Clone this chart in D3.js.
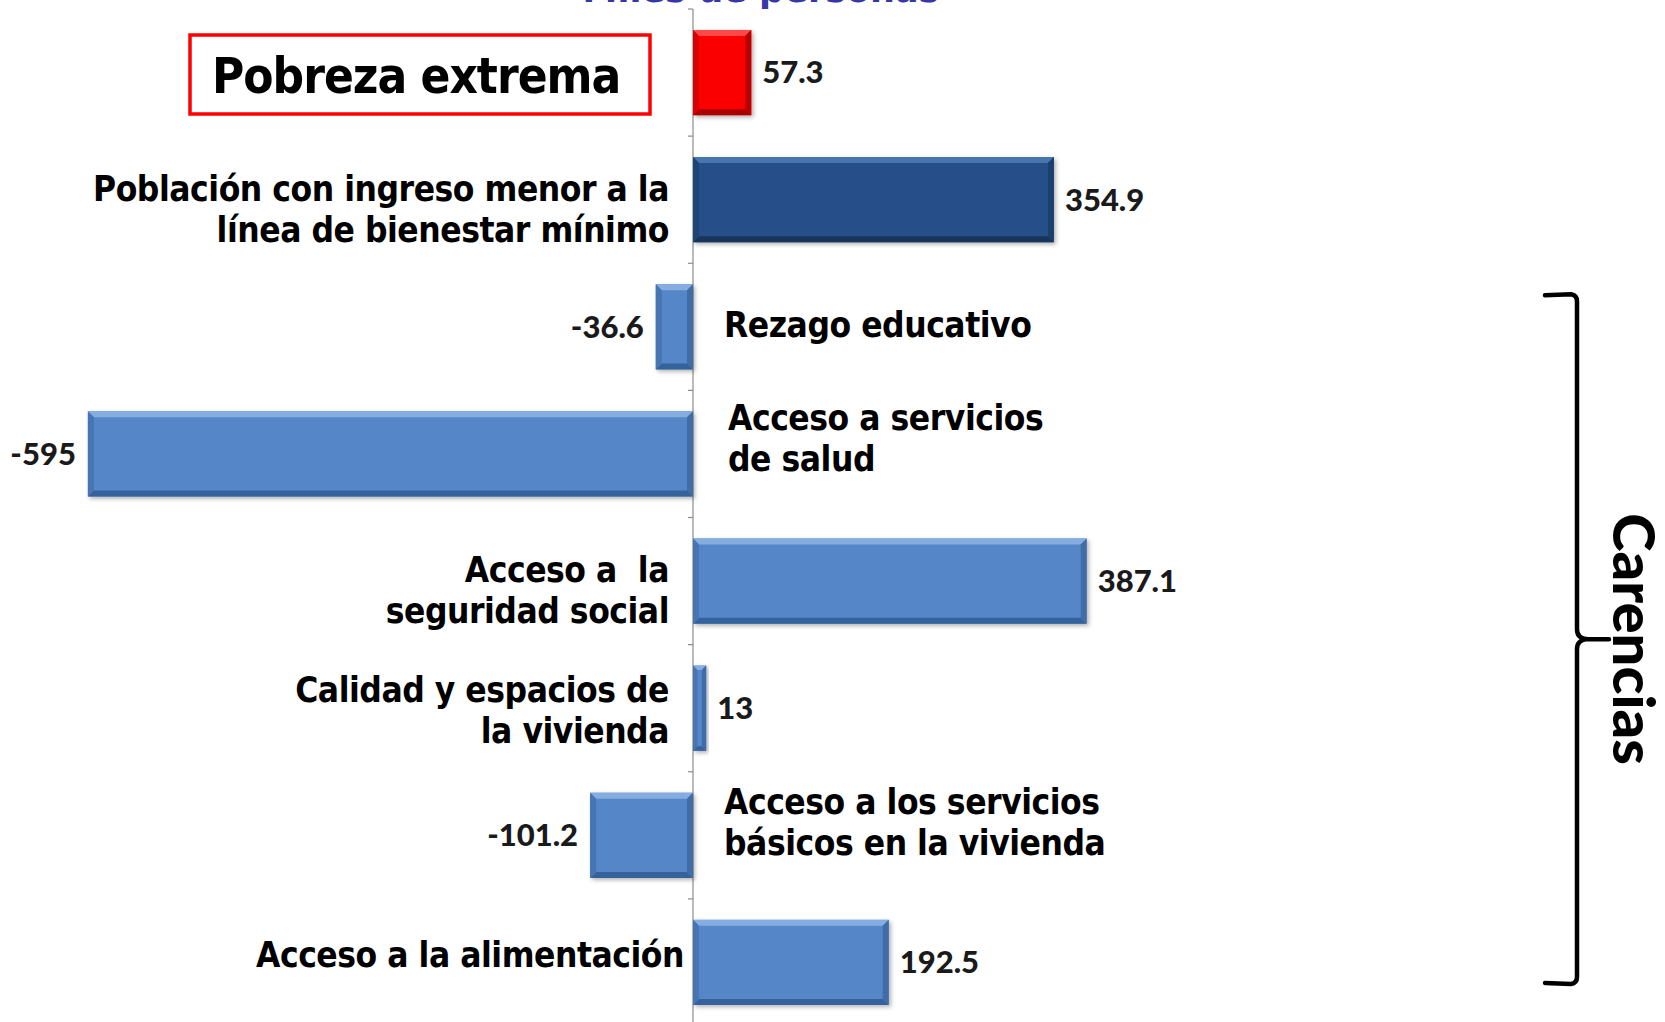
<!DOCTYPE html>
<html>
<head>
<meta charset="utf-8">
<script src="https://cdn.jsdelivr.net/npm/d3@7"></script>
<style>
  html, body { margin: 0; padding: 0; background: #ffffff; }
  svg { display: block; }
  .cat { font-family: "DejaVu Sans Condensed", "DejaVu Sans", sans-serif; font-stretch: condensed; font-weight: bold; fill: #000; white-space: pre; }
  .val { font-family: Lato, "Open Sans", sans-serif; font-weight: 900; fill: #1a1a1a; }
</style>
</head>
<body>
<svg id="chart" width="1665" height="1022"></svg>
<script>
// Categories, top to bottom
const categories = [
  "Pobreza extrema",
  "Población con ingreso menor a la línea de bienestar mínimo",
  "Rezago educativo",
  "Acceso a servicios de salud",
  "Acceso a la seguridad social",
  "Calidad y espacios de la vivienda",
  "Acceso a los servicios básicos en la vivienda",
  "Acceso a la alimentación"
];
// Change in thousands of people
const values = [57.3, 354.9, -36.6, -595, 387.1, 13, -101.2, 192.5];
// Value labels as printed
const valueLabels = ["57.3", "354.9", "-36.6", "-595", "387.1", "13", "-101.2", "192.5"];
// Category label lines (wrapped text)
const labelLines = [
  [],
  ["Población con ingreso menor a la", "línea de bienestar mínimo"],
  ["Rezago educativo"],
  ["Acceso a servicios", "de salud"],
  ["Acceso a  la", "seguridad social"],
  ["Calidad y espacios de", "la vivienda"],
  ["Acceso a los servicios", "básicos en la vivienda"],
  ["Acceso a la alimentación"]
];
// Bar colour group
const barKind = ["extreme", "income", "lack", "lack", "lack", "lack", "lack", "lack"];
const titleText = "Miles de personas";
const boxText = "Pobreza extrema";
const groupText = "Carencias";

const svg = d3.select("#chart");

const x = d3.scaleLinear().domain([-600, 400]).range([82.8, 1099.8]);
const y = d3.scaleBand().domain(categories).range([9, 1026]).paddingInner(0.33).paddingOuter(0.165);

const palettes = {
  extreme: { face: "#fb0000", top: "#ff4a4a", bottom: "#a80000", left: "#d80000", right: "#b80000" },
  income:  { face: "#26508a", top: "#4a74ad", bottom: "#173559", left: "#1f4576", right: "#1c3f6c" },
  lack:    { face: "#5587c8", top: "#86addf", bottom: "#36629a", left: "#4775b3", right: "#416da8" }
};

const defs = svg.append("defs");
const shadow = defs.append("filter").attr("id", "shadow").attr("x", "-10%").attr("y", "-10%").attr("width", "130%").attr("height", "130%");
shadow.append("feDropShadow").attr("dx", 2).attr("dy", 2).attr("stdDeviation", 2)
  .attr("flood-color", "#000").attr("flood-opacity", 0.3);

// Heading, mostly above the top edge
svg.append("text")
  .attr("x", 761).attr("y", 2)
  .attr("text-anchor", "middle")
  .attr("font-family", "DejaVu Sans, sans-serif").attr("font-weight", "bold")
  .attr("font-size", 35).attr("fill", "#3636a8")
  .text(titleText);

// Zero axis with ticks between categories
const x0 = x(0);
const axis = svg.append("g");
axis.append("line")
  .attr("x1", x0).attr("x2", x0)
  .attr("y1", y.range()[0]).attr("y2", y.range()[1])
  .attr("stroke", "#8c8c8c").attr("stroke-width", 1.2);
const gap = y.step() * y.paddingInner() / 2;
axis.selectAll("line.tick")
  .data(categories)
  .join("line")
  .attr("class", "tick")
  .attr("x1", x0 - 5).attr("x2", x0)
  .attr("y1", d => y(d) - gap).attr("y2", d => y(d) - gap)
  .attr("stroke", "#8c8c8c").attr("stroke-width", 1.2);

// Bevelled bars
const bars = svg.selectAll("g.bar")
  .data(categories.map((c, i) => ({ c, v: values[i], k: barKind[i], i })))
  .join("g")
  .attr("class", "bar")
  .attr("filter", "url(#shadow)");

bars.each(function (d) {
  const g = d3.select(this);
  const p = palettes[d.k];
  const xa = Math.min(x(0), x(d.v)), xb = Math.max(x(0), x(d.v));
  const ya = y(d.c), yb = y(d.c) + y.bandwidth();
  const b = Math.min(6, (xb - xa) / 3);
  g.append("rect").attr("x", xa).attr("y", ya).attr("width", xb - xa).attr("height", yb - ya).attr("fill", p.face);
  const poly = (pts, fill) => g.append("polygon").attr("points", pts.map(q => q.join(",")).join(" ")).attr("fill", fill);
  poly([[xa, ya], [xb, ya], [xb - b, ya + b], [xa + b, ya + b]], p.top);
  poly([[xa, yb], [xb, yb], [xb - b, yb - b], [xa + b, yb - b]], p.bottom);
  poly([[xa, ya], [xa + b, ya + b], [xa + b, yb - b], [xa, yb]], p.left);
  poly([[xb, ya], [xb - b, ya + b], [xb - b, yb - b], [xb, yb]], p.right);
});

// Value labels beyond the bar ends
svg.selectAll("text.val")
  .data(categories.map((c, i) => ({ c, v: values[i], t: valueLabels[i] })))
  .join("text")
  .attr("class", "val")
  .attr("font-size", 31)
  .attr("x", d => d.v >= 0 ? x(d.v) + 11 : x(d.v) - 12)
  .attr("y", d => y(d.c) + y.bandwidth() / 2)
  .attr("dy", "0.35em")
  .attr("text-anchor", d => d.v >= 0 ? "start" : "end")
  .text(d => d.t);

// Category labels sit on the opposite side of the axis from the bar
const labelLayout = [
  null,
  { side: "left", dx: -24, dy: 9.5 },
  { side: "right", dx: 31, dy: -2 },
  { side: "right", dx: 35, dy: -16 },
  { side: "left", dx: -24, dy: 9 },
  { side: "left", dx: -24, dy: 2 },
  { side: "right", dx: 31, dy: -13 },
  { side: "left", dx: -9, dy: -8 }
];
const lineGap = 41;
categories.forEach((c, i) => {
  const lay = labelLayout[i];
  if (!lay) return;
  const lines = labelLines[i];
  const cy = y(c) + y.bandwidth() / 2 + lay.dy;
  const t = svg.append("text")
    .attr("class", "cat")
    .attr("font-size", 35)
    .attr("letter-spacing", -0.45)
    .attr("text-anchor", lay.side === "left" ? "end" : "start");
  lines.forEach((ln, j) => {
    t.append("tspan")
      .attr("x", x0 + lay.dx)
      .attr("y", cy + 12.5 + (j - (lines.length - 1) / 2) * lineGap)
      .text(ln);
  });
});

// Boxed label for the extreme poverty bar
svg.append("rect")
  .attr("x", 190).attr("y", 35).attr("width", 460).attr("height", 79)
  .attr("fill", "none").attr("stroke", "#ff0000").attr("stroke-width", 3.5);
svg.append("text")
  .attr("class", "cat")
  .attr("x", 212).attr("y", 93)
  .attr("font-size", 49)
  .attr("letter-spacing", -1)
  .text(boxText);

// Bracket grouping the deprivation indicators
const brTop = y(categories[2]) + 11, brBottom = y(categories[7]) + y.bandwidth() - 22;
const brMid = (brTop + brBottom) / 2;
const bx = 1577;
svg.append("path")
  .attr("d", `M${bx - 32},${brTop} L${bx - 6},${brTop - 1} Q${bx},${brTop} ${bx},${brTop + 6}
              L${bx},${brMid - 10} Q${bx},${brMid - 1} ${bx + 10},${brMid} L${bx + 32},${brMid}
              M${bx + 10},${brMid} Q${bx},${brMid + 1} ${bx},${brMid + 10}
              L${bx},${brBottom - 6} Q${bx},${brBottom} ${bx - 6},${brBottom + 1} L${bx - 32},${brBottom}`)
  .attr("fill", "none").attr("stroke", "#000").attr("stroke-width", 4.5)
  .attr("stroke-linecap", "round").attr("stroke-linejoin", "round");

svg.append("text")
  .attr("transform", `translate(1633,${brMid}) rotate(90)`)
  .attr("text-anchor", "middle")
  .attr("dy", "0.35em")
  .attr("font-family", "Lato, sans-serif").attr("font-weight", 900)
  .attr("font-size", 58).attr("fill", "#000")
  .text(groupText);
</script>
</body>
</html>
